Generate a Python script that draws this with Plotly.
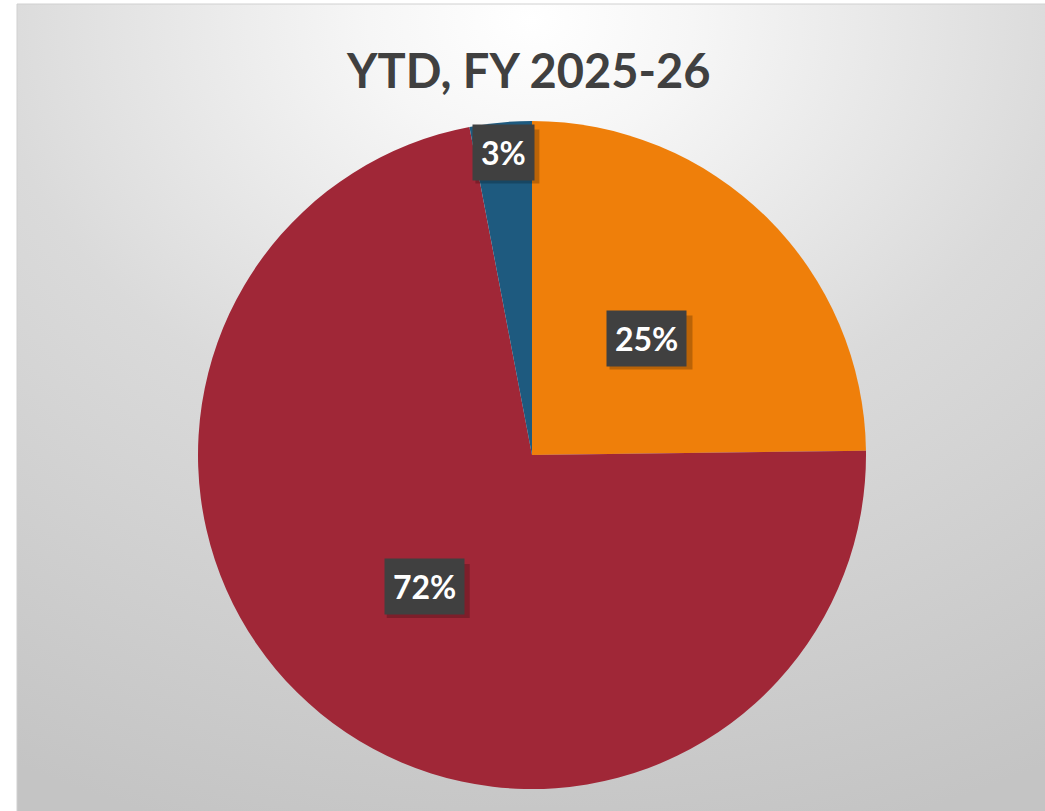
import base64, math
import plotly.graph_objects as go

# ---- data ----
categories = ["Segment A", "Segment B", "Segment C"]
values = [24.8, 72.2, 3.0]
colors = ["#EF7F0A", "#A02737", "#1E5A7F"]
title_text = "YTD, FY 2025-26"

# ---- layout geometry (px) ----
W, H = 1045, 811
CX, CY, R = 532, 455, 334
label_radius = [0.49, 0.51, 0.91]   # fraction of radius where each label sits

cxp, cyp = CX / W, 1 - CY / H
rxp, ryp = R / W, R / H

svg = f'''<svg xmlns="http://www.w3.org/2000/svg" width="1000" height="1000" viewBox="0 0 100 100" preserveAspectRatio="none">
<defs><radialGradient id="g" cx="0.5" cy="0.02" r="1.05" fx="0.5" fy="0.02">
<stop offset="0" stop-color="#ffffff"/>
<stop offset="0.15" stop-color="#f6f6f6"/>
<stop offset="0.5" stop-color="#dadada"/>
<stop offset="1" stop-color="#c4c4c4"/>
</radialGradient></defs>
<rect x="0" y="0" width="100" height="100" fill="url(#g)"/></svg>'''
src = "data:image/svg+xml;base64," + base64.b64encode(svg.encode()).decode()

fig = go.Figure()
fig.add_trace(go.Pie(
    labels=categories, values=values, sort=False, direction="clockwise", rotation=0,
    marker=dict(colors=colors, line=dict(width=0)),
    textinfo="none", hoverinfo="label+percent", showlegend=False,
    domain=dict(x=[cxp - rxp, cxp + rxp], y=[cyp - ryp, cyp + ryp]),
))

total = sum(values)
cum = 0.0
annotations = []
shapes = [dict(type="rect", xref="paper", yref="paper", x0=17 / W, x1=1.01, y0=-0.01, y1=1 - 4 / H,
               line=dict(color="#d0d0d0", width=1), layer="below")]
for v, frac in zip(values, label_radius):
    mid = (cum + v / 2) / total * 2 * math.pi
    cum += v
    x = cxp + frac * rxp * math.sin(mid)
    y = cyp + frac * ryp * math.cos(mid)
    pct = f"{round(v / total * 100)}%"
    hw = (19 * len(pct) + 26) / 2
    hh = 27
    shapes.append(dict(type="rect", xref="paper", yref="paper", xsizemode="pixel", ysizemode="pixel",
                       xanchor=x, yanchor=y, x0=-hw + 4, x1=hw + 4, y0=-hh - 4, y1=hh - 4,
                       fillcolor="rgba(0,0,0,0.22)", line=dict(width=0), layer="above"))
    annotations.append(dict(x=x, y=y, xref="paper", yref="paper", text=pct, showarrow=False,
                            xanchor="center", yanchor="middle",
                            font=dict(family="Lato", size=32, color="#ffffff", weight="bold"),
                            bgcolor="#404040", borderpad=8))

annotations.append(dict(x=528 / W, y=1 - 70 / H, xref="paper", yref="paper", text=title_text,
                        showarrow=False, xanchor="center", yanchor="middle",
                        font=dict(family="Lato", size=47, color="#404040", weight="bold")))

fig.update_layout(
    width=W, height=H, margin=dict(l=0, r=0, t=0, b=0),
    paper_bgcolor="#ffffff", plot_bgcolor="#ffffff",
    images=[dict(source=src, xref="paper", yref="paper", x=17 / W, y=1 - 4 / H,
                 sizex=1 - 17 / W, sizey=1 - 4 / H, xanchor="left", yanchor="top",
                 sizing="stretch", layer="below")],
    shapes=shapes,
    annotations=annotations,
)

fig.write_html("out.html", config={"displayModeBar": False},
               post_script="document.body.style.margin='0';")
